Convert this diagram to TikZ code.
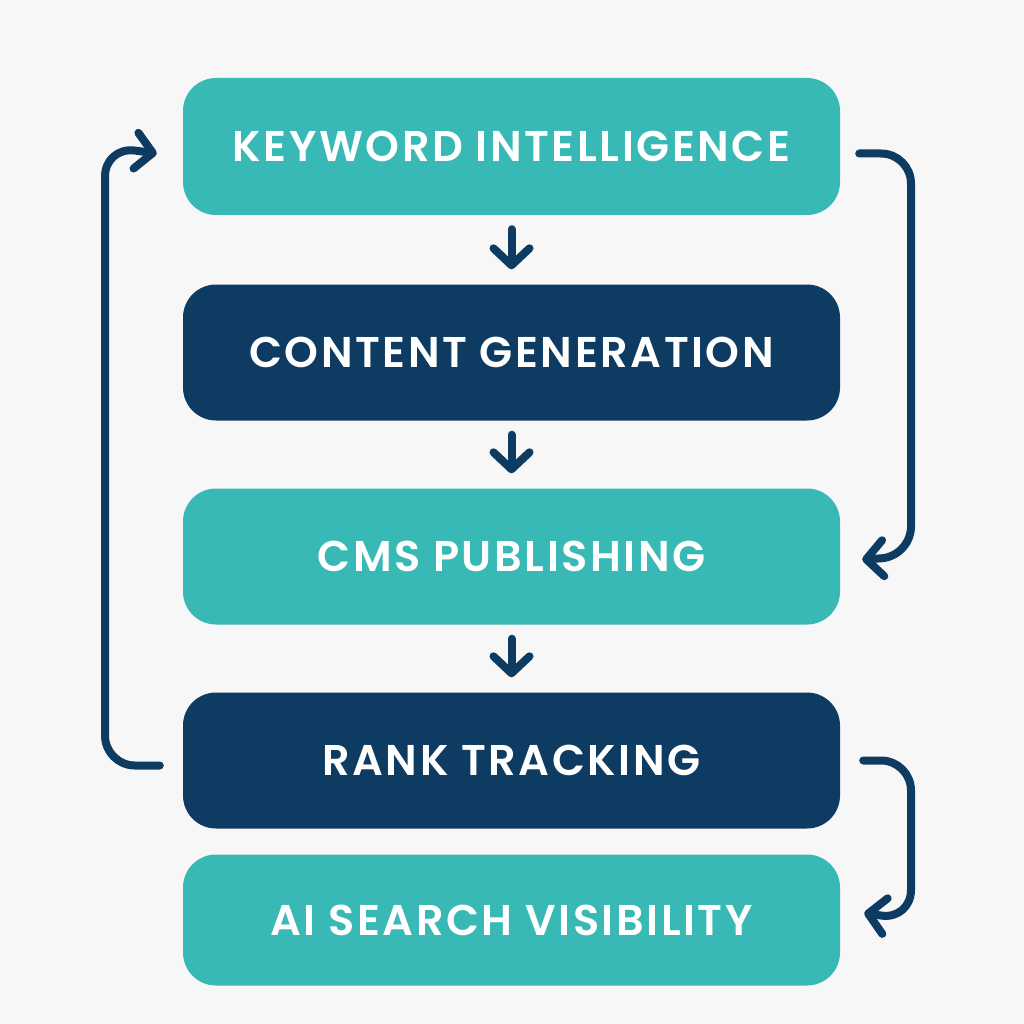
\documentclass[tikz,border=0pt]{standalone}
\usepackage{fontspec}
\setmainfont{Poppins}[BoldFont={Poppins SemiBold}]
\newfontfamily\boxfont{Poppins SemiBold}[LetterSpace=6]
\usetikzlibrary{arrows.meta}
\definecolor{teal1}{HTML}{38B9B6}
\definecolor{navy1}{HTML}{0E3B61}
\definecolor{bg1}{HTML}{F7F7F7}
\tikzset{
  boxbase/.style={rounded corners=33pt, minimum width=657pt, inner sep=0pt, text=white,
    font=\boxfont\fontsize{43}{45}\selectfont},
  tealbox/.style={boxbase, fill=teal1},
  navybox/.style={boxbase, fill=navy1},
  arr/.style={draw=navy1, line width=8pt, line cap=round, line join=round,
    -{Straight Barb[length=17pt,width=36pt,round]}},
  loop/.style={arr, rounded corners=30pt}
}
\begin{document}
\begin{tikzpicture}[x=1pt,y=-1pt]
\fill[bg1] (0,0) rectangle (1024,1024);
\useasboundingbox (0,0) rectangle (1024,1024);
\node[tealbox, minimum height=137pt] (k) at (511.5,146.5) {KEYWORD INTELLIGENCE\hspace{5pt}};
\node[navybox, minimum height=136pt] (c) at (511.5,352.5) {CONTENT GENERATION\hspace{8pt}};
\node[tealbox, minimum height=136pt] (p) at (511.5,556.5) {CMS PUBLISHING\hspace{7pt}};
\node[navybox, minimum height=136pt] (r) at (511.5,760.5) {RANK TRACKING\hspace{5pt}};
\node[tealbox, minimum height=131pt] (a) at (511.5,920) {AI SEARCH VISIBILITY\hspace{6pt}};
% down arrows
\draw[arr] ([yshift=-14pt]k.south) -- ([yshift=15pt]c.north);
\draw[arr] ([yshift=-14pt]c.south) -- ([yshift=15pt]p.north);
\draw[arr] ([yshift=-14pt]p.south) -- ([yshift=15pt]r.north);
% loops
\coordinate (lx) at (105,0);
\coordinate (rx) at (911,0);
\draw[loop] ([xshift=-23pt,yshift=-5pt]r.west) -| (lx |- k.west) -- ([xshift=-26pt,yshift=-7pt]k.west);
\draw[loop] ([xshift=19pt,yshift=-7pt]k.east) -| (rx |- p.east) -- ([xshift=22pt,yshift=-3pt]p.east);
\draw[loop] ([xshift=23pt]r.east) -| (rx |- a.east) -- ([xshift=24pt,yshift=7pt]a.east);
\end{tikzpicture}
\end{document}
